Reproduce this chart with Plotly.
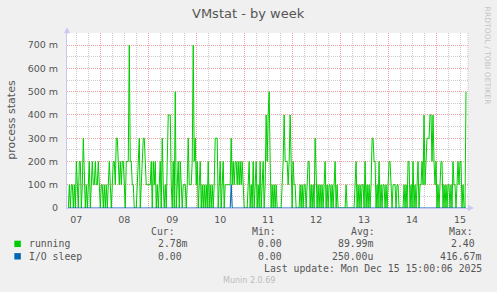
import pandas as pd
import plotly.graph_objects as go

# ---------------- data (values in processes) ----------------
start_time = "2025-12-07 08:00"
running = [
    # Dec 7
    0,.1,0,.1,.1,0,.1,0,.2,.1,0,.2,.2,0,.1,.3,.1,0,.1,0,.1,.2,0,.1,.2,.1,.1,.2,.1,.1,.2,.1,0,.1,
    # Dec 8
    .1,0,.1,0, .1,0,.1,.2, .1,0,.1,.2, .2,.1,.3,.3, .2,.1,.2,.1, .2,.2,.1,0,
    .2,.2,.2,.7, .2,.2,.1,.1, 0,0,0,.1, .2,.3,0,.1, .2,.3,.3,.2, .1,.1,.1,.1,
    # Dec 9
    .1,.2,0,.2,.1,.2,0,.1,0,.1,.2,0,.3,.1,0,.1,0,.2,.4,.4,.4,.1,0,.2,0,.5,0,.1,.2,0,
    .2,.1,0,.1,.1,.1,0,.1,.3,.1,.1,.1,.2,.7,.2,.3,.1,
    # Dec 10
    .2,0,.1,.2,0,.1,0,.1,0,.1,0,.2,0,.1,0,.1,0,.1,.3,.3,.3,0,.1,.2,0,.1,.2,0,.1,.1,
    .1,.1,.1,.1,.3,.1,.2,.1,.2,.2,.1,.2,.1,.2,.1,.2,.1,0,0,
    # Dec 11
    0,0,.1,.2,0,.1,0,.2,0,.1,.2,0,.1,0,.2,0,.1,.2,0,.1,.4,.2,.4,.5,.2,0,.1,0,.1,0,
    .1,0,0,0,0,0,.1,.2,.4,.2,.2,.2,.1,.2,.4,.1,0,.2,
    # Dec 12
    .1,.1,0,0,0,0,.1,0,.1,0, .1,.1,0,.1,.2,.2,0,.1,0,.1, 0,.3,.1,0,.1,0,.1,0,.1,0,
    .1,.2,0,.1,0,.1,.1,0,.1,0, .1,.2,0,.1,0,0,0,0,
    # Dec 13
    0,0,0,0,.1,0,0,0,0,0, 0,0,0,.1,.2,0,.1,0,.1,0, .1,.1,0,.2,0,.1,0,.1,0,.1,
    .3,.3,.2,.2,0,.1,0,.2,0,.1, 0,.1,.1,0,.1,0,.1,.2,
    # Dec 14
    .2,.1,0,.1,.1,.1,0,.1,.1,0, 0,0,0,0,.1,0,.1,0,.2,.2, 0,.1,0,.2,0,.1,0,.1,.2,0,
    .1,.1,.2,.1,.4,.1,.2,.3,.3,.3, .4,.4,.2,.4,.2,.1,.2,0,
    # Dec 15
    .1,0,.1,.2,.2,0,.1,0,.1,0, .1,.1,0,.1,0,.2,.1,.1,0,.1, .2,.1,.2,.2,0,.1,0,0,.5,
]
io_sleep_times = ["2025-12-07 08:00", "2025-12-10 17:00", "2025-12-10 17:30",
                  "2025-12-10 18:00", "2025-12-15 15:00"]
io_sleep_values = [0, 0, .1, 0, 0]

y_tickvals = [0, .1, .2, .3, .4, .5, .6, .7]
y_ticktext = ["0", "100 m", "200 m", "300 m", "400 m", "500 m", "600 m", "700 m"]

series_names = ["running", "I/O sleep"]
series_colors = ["#00CC00", "#0066B3"]
cur_vals = ["2.78m", "0.00"]
min_vals = ["0.00", "0.00"]
avg_vals = ["89.99m", "250.00u"]
max_vals = ["2.40", "416.67m"]
last_update = "Last update: Mon Dec 15 15:00:06 2025"

# ---------------- layout geometry (pixels) ----------------
W, H = 497, 292
PL, PR, PT, PB = 66.7, 468.0, 32.8, 208.5


def px(x):
    return (x - PL) / (PR - PL)


def py(y):
    return (PB - y) / (PB - PT)


times = pd.date_range(start_time, periods=len(running), freq="30min")

fig = go.Figure()
fig.add_trace(go.Scatter(x=times, y=running, mode="lines", name=series_names[0],
                         line=dict(color=series_colors[0], width=1), hoverinfo="skip"))
fig.add_trace(go.Scatter(x=pd.to_datetime(io_sleep_times), y=io_sleep_values, mode="lines",
                         name=series_names[1],
                         line=dict(color=series_colors[1], width=1), hoverinfo="skip"))

txt = "#555555"
mono = "DejaVu Sans Mono"
sans = "DejaVu Sans"

fig.update_layout(
    width=W, height=H, autosize=False,
    margin=dict(l=PL, r=W - PR, t=PT, b=H - PB, pad=0),
    paper_bgcolor="#F0F0F0", plot_bgcolor="#FFFFFF",
    showlegend=False,
    xaxis=dict(
        type="date", range=["2025-12-07 07:20", "2025-12-15 16:00"],
        tickmode="linear", tick0="2025-12-07", dtick=86400000,
        ticklabelmode="period", tickformat="%d",
        showgrid=True, gridcolor="#F2A0A0", griddash="1px,1px", gridwidth=1,
        minor=dict(dtick=6 * 3600000, tick0="2025-12-07", showgrid=True,
                   gridcolor="#CCCCCC", griddash="1px,1px", gridwidth=1),
        showline=True, linecolor="#C8C8F0", linewidth=1,
        zeroline=False, ticks="", ticklabelstandoff=3, fixedrange=True,
        tickfont=dict(family=sans, size=9.5, color=txt),
    ),
    yaxis=dict(
        range=[0, 0.752], tickmode="array", tickvals=y_tickvals, ticktext=y_ticktext,
        showgrid=True, gridcolor="#F2A0A0", griddash="1px,1px", gridwidth=1,
        minor=dict(dtick=0.05, tick0=0, showgrid=True,
                   gridcolor="#CCCCCC", griddash="1px,1px", gridwidth=1),
        showline=True, linecolor="#C8C8F0", linewidth=1,
        zeroline=False, ticks="", ticklabelstandoff=6, fixedrange=True,
        tickfont=dict(family=sans, size=9.5, color=txt),
    ),
)

shapes = []
# right border dotted
shapes.append(dict(type="line", xref="paper", yref="paper", x0=1, x1=1, y0=0, y1=1,
                   line=dict(color="#CCCCCC", width=1, dash="1px,1px"), layer="below"))
# axis arrows
shapes.append(dict(type="path", xref="paper", yref="paper",
                   path=f"M {px(63.7)} {py(33)} L {px(69.7)} {py(33)} L {px(66.7)} {py(27)} Z",
                   fillcolor="#C8C8F0", line=dict(width=0)))
shapes.append(dict(type="path", xref="paper", yref="paper",
                   path=f"M {px(468)} {py(205.5)} L {px(468)} {py(211.5)} L {px(474)} {py(208.5)} Z",
                   fillcolor="#C8C8F0", line=dict(width=0)))
# legend colour squares
for i, c in enumerate(series_colors):
    yc = 244.5 + i * 12.5
    shapes.append(dict(type="rect", xref="paper", yref="paper",
                       x0=px(14), x1=px(20.5), y0=py(yc + 3.2), y1=py(yc - 3.2),
                       fillcolor=c, line=dict(width=0)))
fig.update_layout(shapes=shapes)

ann = []


def add(text, x, y, xanchor="left", size=9.8, family=mono, color=txt, angle=0):
    ann.append(dict(text=text, x=px(x), y=py(y), xref="paper", yref="paper",
                    xanchor=xanchor, yanchor="middle", showarrow=False, textangle=angle,
                    font=dict(family=family, size=size, color=color)))


add("VMstat - by week", 248, 13, xanchor="center", size=13, family=sans, color="#555555")
add("process states", 11.5, 120, xanchor="center", size=11, family=sans, color="#555555", angle=-90)
add("RRDTOOL / TOBI OETIKER", 487.5, 56, xanchor="center", size=7.6, family=sans,
    color="#C4C4C4", angle=90)

add("Cur:", 149, 232)
add("Min:", 250, 232)
add("Avg:", 349, 232)
add("Max:", 446.7, 232)
for i in range(2):
    yr = 244.5 + i * 12.5
    add(series_names[i], 26.7, yr)
    add(cur_vals[i], 155.7, yr)
    add(min_vals[i], 255.7, yr)
    add(avg_vals[i], 374.5, yr, xanchor="right")
    add(max_vals[i], 483.5 if i == 1 else 477, yr, xanchor="right")
add(last_update, 262.3, 269)
add("Munin 2.0.69", 248.5, 281, xanchor="center", size=8, family=sans, color="#BBBBBB")
fig.update_layout(annotations=ann)

fig.write_html("out.html", config={"displayModeBar": False})
